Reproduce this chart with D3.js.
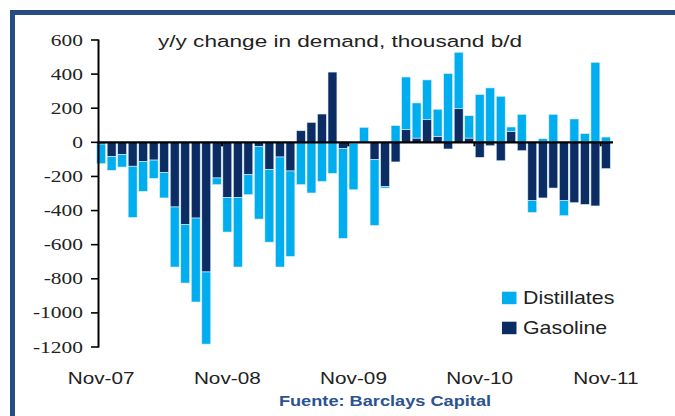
<!DOCTYPE html>
<html><head><meta charset="utf-8">
<script src="https://cdn.jsdelivr.net/npm/d3@7"></script>
<style>html,body{margin:0;padding:0;background:#fff;}svg{display:block;}</style>
</head><body><svg id="c" width="675" height="416"></svg>
<script>
const months = ["Nov-07","Dec-07","Jan-08","Feb-08","Mar-08","Apr-08","May-08","Jun-08","Jul-08","Aug-08","Sep-08","Oct-08",
"Nov-08","Dec-08","Jan-09","Feb-09","Mar-09","Apr-09","May-09","Jun-09","Jul-09","Aug-09","Sep-09","Oct-09",
"Nov-09","Dec-09","Jan-10","Feb-10","Mar-10","Apr-10","May-10","Jun-10","Jul-10","Aug-10","Sep-10","Oct-10",
"Nov-10","Dec-10","Jan-11","Feb-11","Mar-11","Apr-11","May-11","Jun-11","Jul-11","Aug-11","Sep-11","Oct-11","Nov-11"];
const gasoline = [-10,-84,-72,-140,-113,-104,-178,-379,-483,-444,-760,-209,-323,-323,-190,-25,-160,-86,-168,68,117,166,412,-35,-5,0,-102,-258,-115,74,25,133,35,-39,197,25,-88,-20,-108,65,-49,-340,-326,-268,-340,-354,-364,-373,-154];
const distillates = [-115,-80,-73,-300,-174,-107,-148,-352,-342,-492,-423,-39,-203,-408,-117,-425,-425,-645,-501,-248,-297,-229,-182,-528,-273,88,-385,-10,98,309,206,233,159,403,331,131,280,319,270,25,164,-71,21,164,-90,137,51,469,31];
const yTicks = [600,400,200,0,-200,-400,-600,-800,-1000,-1200];
const xLabels = ["Nov-07","Nov-08","Nov-09","Nov-10","Nov-11"];
const seriesNames = ["Gasoline","Distillates"];
const colors = {Gasoline:"#0c2d63", Distillates:"#00aeef"};
const title = "y/y change in demand, thousand b/d";
const source = "Fuente: Barclays Capital";

const svg = d3.select("#c");
svg.append("rect").attr("width",675).attr("height",416).attr("fill","#fff");

// frame
svg.append("path").attr("d","M12.5,416V12.5H675").attr("fill","none").attr("stroke","#274c83").attr("stroke-width",5);

const x = d3.scaleBand().domain(months).range([96,611]).paddingInner(0.15).paddingOuter(0.06);
const y = d3.scaleLinear().domain([-1200,600]).range([347,40]);

const table = months.map((m,i)=>({month:m, Gasoline:gasoline[i], Distillates:distillates[i]}));
const stack = d3.stack().keys(seriesNames).offset(d3.stackOffsetDiverging)(table);

const g = svg.append("g");
stack.forEach(s=>{
  g.selectAll(null).data(s).enter().append("rect")
    .attr("x",d=>x(d.data.month))
    .attr("width",x.bandwidth())
    .attr("y",d=>y(Math.max(d[0],d[1])))
    .attr("height",d=>Math.abs(y(d[0])-y(d[1])))
    .attr("fill",colors[s.key])
    .attr("stroke","#dbeefa").attr("stroke-width",0.6);
});

function txt(xp,yp,str,size,anchor,sx,opts={}){
  return svg.append("text")
    .attr("transform",`translate(${xp},${yp}) scale(${sx},1)`)
    .attr("text-anchor",anchor)
    .attr("font-family",opts.family||"Liberation Sans, Arial, sans-serif")
    .attr("font-size",size)
    .attr("font-weight",opts.weight||"normal")
    .attr("fill",opts.fill||"#222")
    .text(str);
}

// y axis
const ya = svg.append("g");
ya.append("line").attr("x1",98.5).attr("x2",98.5).attr("y1",y(600)-0.5).attr("y2",y(-1200)+0.5).attr("stroke","#000").attr("stroke-width",2);
yTicks.forEach(t=>{
  ya.append("line").attr("x1",91).attr("x2",98.5).attr("y1",y(t)).attr("y2",y(t)).attr("stroke","#000").attr("stroke-width",1.6);
  txt(83,y(t)+5.5,t<0?"-"+Math.abs(t):String(t),16.5,"end",1.3,{family:"Liberation Serif, Times New Roman, serif",fill:"#222"});
});

// zero line
svg.append("line").attr("x1",97.5).attr("x2",613).attr("y1",y(0)).attr("y2",y(0)).attr("stroke","#000").attr("stroke-width",2.2);
// x ticks
xLabels.slice(1).forEach(m=>{
  const xp = x(m) - (x.step()-x.bandwidth())/2;
  svg.append("line").attr("x1",xp).attr("x2",xp).attr("y1",y(0)).attr("y2",y(0)+4).attr("stroke","#000").attr("stroke-width",2);
});
xLabels.forEach(m=>{
  txt(x(m)+x.bandwidth()/2,384,m,17,"middle",1.22,{fill:"#222"});
});

// title
txt(158,47,title,16.5,"start",1.37,{fill:"#222"});

// legend
const leg = [["Distillates",291.7],["Gasoline",321.7]];
leg.forEach(([n,yy])=>{
  svg.append("rect").attr("x",502).attr("y",yy).attr("width",14.5).attr("height",12.5).attr("fill",colors[n]);
  txt(523,yy+12.5,n,17.5,"start",1.22,{fill:"#222"});
});

// source
txt(385,406,source,14,"middle",1.3,{weight:"bold",fill:"#2b5391"});
</script></body></html>
